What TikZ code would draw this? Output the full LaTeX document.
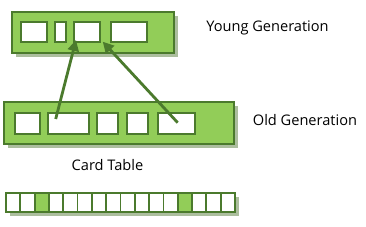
\documentclass[tikz,border=0pt]{standalone}
\usepackage{fontspec}
\setmainfont{Open Sans}
\usepackage{tikz}
\usetikzlibrary{
    arrows.meta,
    positioning,
    shadows
}
\definecolor{genfill}{RGB}{146,205,88}
\definecolor{genline}{RGB}{75,122,45}
\definecolor{genshadow}{RGB}{70,110,40}
\tikzset{
    generation/.style={
        draw=genline,
        line width=2pt,
        fill=genfill,
        inner sep=0pt,
        drop shadow={shadow xshift=4pt, shadow yshift=-4pt,
            fill=genshadow, opacity=0.45}
    }
}
\tikzset{
    region/.style={
        draw=genline,
        line width=1.4pt,
        fill=white,
        inner sep=0pt
    }
}
\tikzset{
    cardcell/.style={
        draw=genline,
        line width=1.8pt,
        fill=white,
        inner sep=0pt,
        minimum width=14.31pt,
        minimum height=19pt
    }
}
\tikzset{
    reference/.style={
        draw=genline,
        line width=2.8pt,
        -{Triangle[length=11pt,width=11pt]}
    }
}
\tikzset{
    label/.style={
        font=\fontsize{14.6}{17}\selectfont,
        text=black
    }
}

\begin{document}
\begin{tikzpicture}[x=1pt, y=-1pt]
\useasboundingbox (0,0) rectangle (366,226);

% young generation
\node[generation, minimum width=162pt, minimum height=41pt] (young) at (93,32.5) {};
\node[region, minimum width=26pt, minimum height=20pt] (y1) at (34,32) {};
\node[region, minimum width=11pt, minimum height=20pt] (y2) at (60.5,32) {};
\node[region, minimum width=26pt, minimum height=20pt] (y3) at (87,32) {};
\node[region, minimum width=36pt, minimum height=20pt] (y4) at (129,32) {};
\node[label] (younglabel) at (267.5,28) {Young Generation};

% old generation
\node[generation, minimum width=230pt, minimum height=42pt] (old) at (119,123) {};
\node[region, minimum width=25pt, minimum height=21pt] (o1) at (27.5,123.5) {};
\node[region, minimum width=41pt, minimum height=21pt] (o2) at (68.5,123.5) {};
\node[region, minimum width=21pt, minimum height=21pt] (o3) at (107.5,123.5) {};
\node[region, minimum width=21pt, minimum height=21pt] (o4) at (137.5,123.5) {};
\node[region, minimum width=37pt, minimum height=21pt] (o5) at (176.5,123.5) {};
\node[label] (oldlabel) at (305,120) {Old Generation};

% card table
\node[label] (cardlabel) at (107.5,165) {Card Table};
\fill[genshadow, opacity=0.45] (10,197) rectangle (239,216);
\foreach \i in {1,...,16} {
    \node[cardcell] (card\i) at ({6+14.31*(\i-0.5)},202.5) {};
}
\foreach \i in {3,13} {
    \node[cardcell, fill=genfill] at (card\i) {};
}

% references from old to young
\coordinate (from1) at (55.7,119);
\coordinate (to1) at (76,40);
\coordinate (from2) at (177.7,122.7);
\coordinate (to2) at (102.7,41.7);
\draw[reference] (from1) -- (to1);
\draw[reference] (from2) -- (to2);

\end{tikzpicture}
\end{document}
